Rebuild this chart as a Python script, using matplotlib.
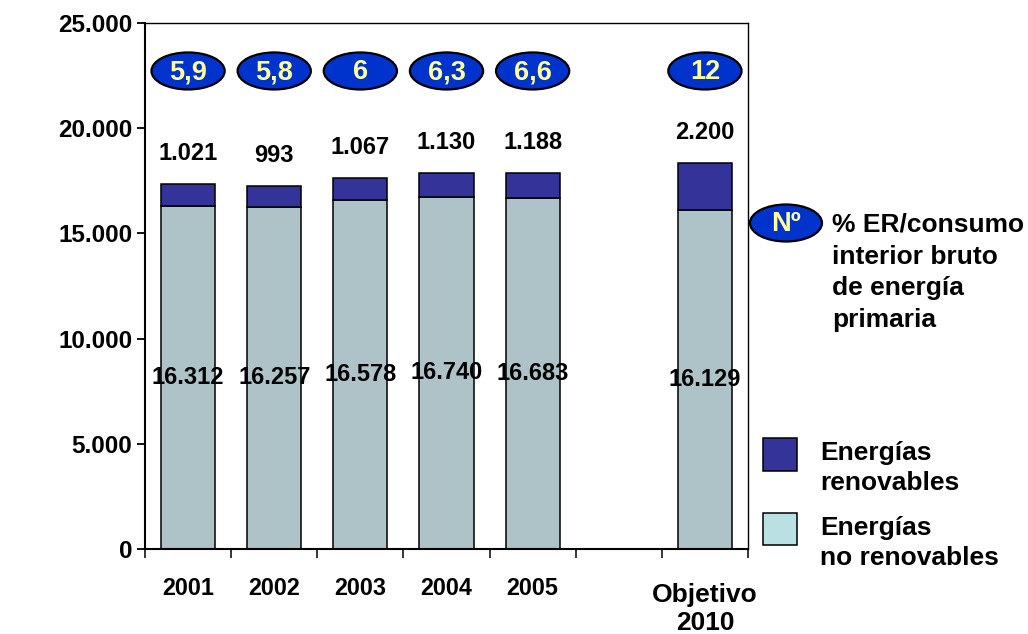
import matplotlib.pyplot as plt
import matplotlib.transforms as mtransforms
from matplotlib.patches import Ellipse, Rectangle
from matplotlib.ticker import FuncFormatter
import numpy as np

plt.rcParams.update({
    "font.family": ["Liberation Sans", "DejaVu Sans"],
    "font.weight": "bold",
    "axes.linewidth": 1.5,
})

# data
categories = ["2001", "2002", "2003", "2004", "2005", "", "Objetivo\n2010"]
no_renovables = [16312, 16257, 16578, 16740, 16683, None, 16129]
renovables = [1021, 993, 1067, 1130, 1188, None, 2200]
pct_er = ["5,9", "5,8", "6", "6,3", "6,6", None, "12"]

col_ren = "#333399"
col_noren = "#adc3c8"
col_noren_leg = "#b9e1e3"
col_ell = "#0033cc"
col_ell_txt = "#ffff99"

fig = plt.figure(figsize=(10.28, 6.34), dpi=100)
ax = fig.add_axes([145 / 1028, 85 / 634, 603 / 1028, 526 / 634])

x = np.arange(len(categories))
bw = 0.63
for i in x:
    if no_renovables[i] is None:
        continue
    nr = no_renovables[i]
    r = renovables[i]
    ax.bar(i, nr, bw, color=col_noren, edgecolor="black", linewidth=1.1)
    ax.bar(i, r, bw, bottom=nr, color=col_ren, edgecolor="black", linewidth=1.1)
    ax.text(i, nr / 2, f"{nr:,}".replace(",", "."), ha="center", va="center",
            fontsize=17, fontweight="bold")
    ax.text(i, nr + r + 1450, f"{r:,}".replace(",", "."), ha="center", va="center",
            fontsize=17, fontweight="bold")
    ax.add_patch(Ellipse((i, 22720), 0.85, 1760, facecolor=col_ell,
                         edgecolor="black", linewidth=1.6))
    ax.text(i, 22650, pct_er[i], ha="center", va="center", fontsize=19.5,
            fontweight="bold", color=col_ell_txt)

ax.set_xlim(-0.5, 6.5)
ax.set_ylim(0, 25000)
ax.set_yticks(np.arange(0, 25001, 5000))
ax.yaxis.set_major_formatter(FuncFormatter(lambda v, p: f"{int(v):,}".replace(",", ".")))
ax.tick_params(axis="y", direction="out", length=6, width=1.3, pad=3, labelsize=17.5)

ax.set_xticks(np.arange(-0.5, 7, 1))
ax.set_xticklabels([])
ax.tick_params(axis="x", which="major", direction="out", length=6.5, width=1.1)
ax.set_xticks(x, minor=True)
ax.set_xticklabels(categories, minor=True, fontsize=16.8, fontweight="bold")
ax.tick_params(axis="x", which="minor", length=0, pad=20)
lbl = ax.get_xticklabels(minor=True)[-1]
lbl.set_fontsize(19)
lbl.set_linespacing(1.2)
lbl.set_transform(lbl.get_transform() +
                  mtransforms.ScaledTranslation(0, -6 / 100, fig.dpi_scale_trans))

for s in ["top", "right"]:
    ax.spines[s].set_linewidth(1.0)

# legend, outside the axes
fig.add_artist(Ellipse((786 / 1028, 1 - 223 / 634), 72 / 1028, 37 / 634,
                       transform=fig.transFigure, facecolor=col_ell,
                       edgecolor="black", linewidth=1.6))
fig.text(786 / 1028, 1 - 224 / 634, "Nº", ha="center", va="center",
         fontsize=19.5, fontweight="bold", color=col_ell_txt)
fig.text(832 / 1028, 1 - 213 / 634,
         "% ER/consumo\ninterior bruto\nde energía\nprimaria",
         ha="left", va="top", fontsize=19, fontweight="bold", linespacing=1.4)

fig.add_artist(Rectangle((763 / 1028, 1 - 471 / 634), 34 / 1028, 33 / 634,
                         transform=fig.transFigure, facecolor=col_ren,
                         edgecolor="black", linewidth=1.1))
fig.add_artist(Rectangle((763 / 1028, 1 - 545 / 634), 34 / 1028, 32 / 634,
                         transform=fig.transFigure, facecolor=col_noren_leg,
                         edgecolor="black", linewidth=1.1))
fig.text(820 / 1028, 1 - 468 / 634, "Energías\nrenovables", ha="left",
         va="center", fontsize=19, fontweight="bold", linespacing=1.3)
fig.text(820 / 1028, 1 - 543 / 634, "Energías\nno renovables", ha="left",
         va="center", fontsize=19, fontweight="bold", linespacing=1.3)

fig.savefig("out.png", dpi=100)
